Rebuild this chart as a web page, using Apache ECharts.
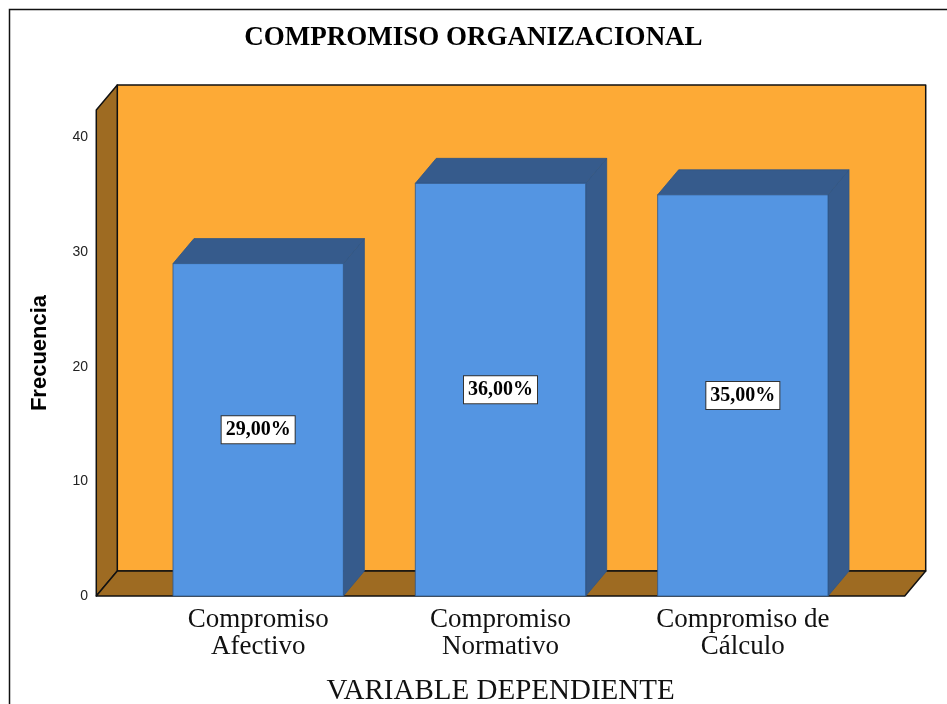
<!DOCTYPE html>
<html lang="es">
<head>
    <meta charset="UTF-8">
    <title>Compromiso organizacional</title>
    <script type="text/javascript" src="https://cdn.jsdelivr.net/npm/echarts@6/dist/echarts.min.js"></script>
    <style>
        html, body { margin: 0; padding: 0; background: #fff; }
    </style>
</head>
<body>
<div id="chart" style="width: 947px;height:704px;"></div>

<script type="text/javascript">
    // datos del grafico
    var categories = ['Compromiso\nAfectivo', 'Compromiso\nNormativo', 'Compromiso de\nCálculo'];
    var frequencies = [29, 36, 35];
    var percentLabels = ['29,00%', '36,00%', '35,00%'];

    // profundidad del efecto 3D (px)
    var DX = 21, DY = 25;
    var EXT = 0.168;       // extension de las paredes fuera de las bandas
    var BAR_RATIO = 0.703; // ancho de la barra respecto a la banda

    var myChart = echarts.init(document.getElementById('chart'));

    function renderWalls(params, api) {
        var cs = params.coordSys;
        var ext = api.size([1, 0])[0] * EXT;
        var fl = cs.x - ext, fr = cs.x + cs.width + ext;
        var t = cs.y, b = cs.y + cs.height;
        var line = {stroke: '#111', lineWidth: 1.5, lineJoin: 'round'};
        return {
            type: 'group',
            children: [
                {type: 'polygon', shape: {points: [[fl + DX, t - DY], [fr + DX, t - DY], [fr + DX, b - DY], [fl + DX, b - DY]]},
                    style: Object.assign({fill: '#FDAA36'}, line)},
                {type: 'polygon', shape: {points: [[fl, t], [fl + DX, t - DY], [fl + DX, b - DY], [fl, b]]},
                    style: Object.assign({fill: '#9E6B22'}, line)},
                {type: 'polygon', shape: {points: [[fl, b], [fl + DX, b - DY], [fr + DX, b - DY], [fr, b]]},
                    style: Object.assign({fill: '#9E6B22'}, line)}
            ]
        };
    }

    function renderBar(params, api) {
        var i = api.value(0);
        var top = api.coord([i, api.value(1)]);
        var base = api.coord([i, 0]);
        var w = api.size([1, 0])[0] * BAR_RATIO;
        var x = top[0] - w / 2, y = top[1], yb = base[1];
        var edge = {stroke: '#2F5687', lineWidth: 0.8};
        return {
            type: 'group',
            children: [
                {type: 'polygon', shape: {points: [[x + w, y], [x + w + DX, y - DY], [x + w + DX, yb - DY], [x + w, yb]]},
                    style: Object.assign({fill: '#365B8C'}, edge)},
                {type: 'polygon', shape: {points: [[x, y], [x + DX, y - DY], [x + w + DX, y - DY], [x + w, y]]},
                    style: Object.assign({fill: '#365B8C'}, edge)},
                {type: 'rect', shape: {x: x, y: y, width: w, height: yb - y},
                    style: Object.assign({fill: '#5495E2'}, edge)},
                {type: 'text', x: top[0], y: (y + yb) / 2,
                    style: {
                        text: percentLabels[i], x: 0, y: 0, align: 'center', verticalAlign: 'middle',
                        fontFamily: 'Liberation Serif', fontWeight: 'bold', fontSize: 20, fill: '#000',
                        backgroundColor: '#fff', borderColor: '#333', borderWidth: 1, padding: [4, 4, 3, 4]
                    }}
            ]
        };
    }

    myChart.setOption({
        animation: false,
        title: {
            text: 'COMPROMISO ORGANIZACIONAL',
            left: 'center',
            top: 20,
            textStyle: {fontFamily: 'Liberation Serif', fontWeight: 'bold', fontSize: 27, color: '#000'}
        },
        graphic: [{
            type: 'rect', shape: {x: 9.5, y: 9.5, width: 1000, height: 800},
            style: {fill: 'none', stroke: '#111', lineWidth: 1.5}, silent: true
        }],
        grid: {left: 137, right: 83, top: 110, bottom: 108, outerBoundsMode: 'none'},
        xAxis: {
            type: 'category',
            data: categories,
            axisLine: {show: false},
            axisTick: {show: false},
            axisLabel: {
                fontFamily: 'Liberation Serif', fontSize: 27, color: '#111', lineHeight: 27, margin: 10
            },
            name: 'VARIABLE DEPENDIENTE',
            nameLocation: 'middle',
            nameGap: 81,
            nameTextStyle: {fontFamily: 'Liberation Serif', fontSize: 29, color: '#111'}
        },
        yAxis: {
            type: 'value',
            min: 0,
            max: 42.4,
            interval: 10,
            offset: 41,
            splitLine: {show: false},
            axisLine: {show: false},
            axisTick: {show: false},
            axisLabel: {fontFamily: 'Liberation Sans', fontSize: 14, color: '#222', margin: 8, showMaxLabel: false},
            name: 'Frecuencia',
            nameLocation: 'middle',
            nameGap: 45,
            nameTextStyle: {fontFamily: 'Liberation Sans', fontWeight: 'bold', fontSize: 22, color: '#000'}
        },
        series: [
            {type: 'custom', renderItem: renderWalls, data: [[0, 0]], z: 1, silent: true},
            {
                type: 'custom',
                renderItem: renderBar,
                z: 2,
                encode: {x: 0, y: 1},
                data: frequencies.map(function (v, i) { return [i, v]; })
            }
        ]
    });
</script>
</body>
</html>
